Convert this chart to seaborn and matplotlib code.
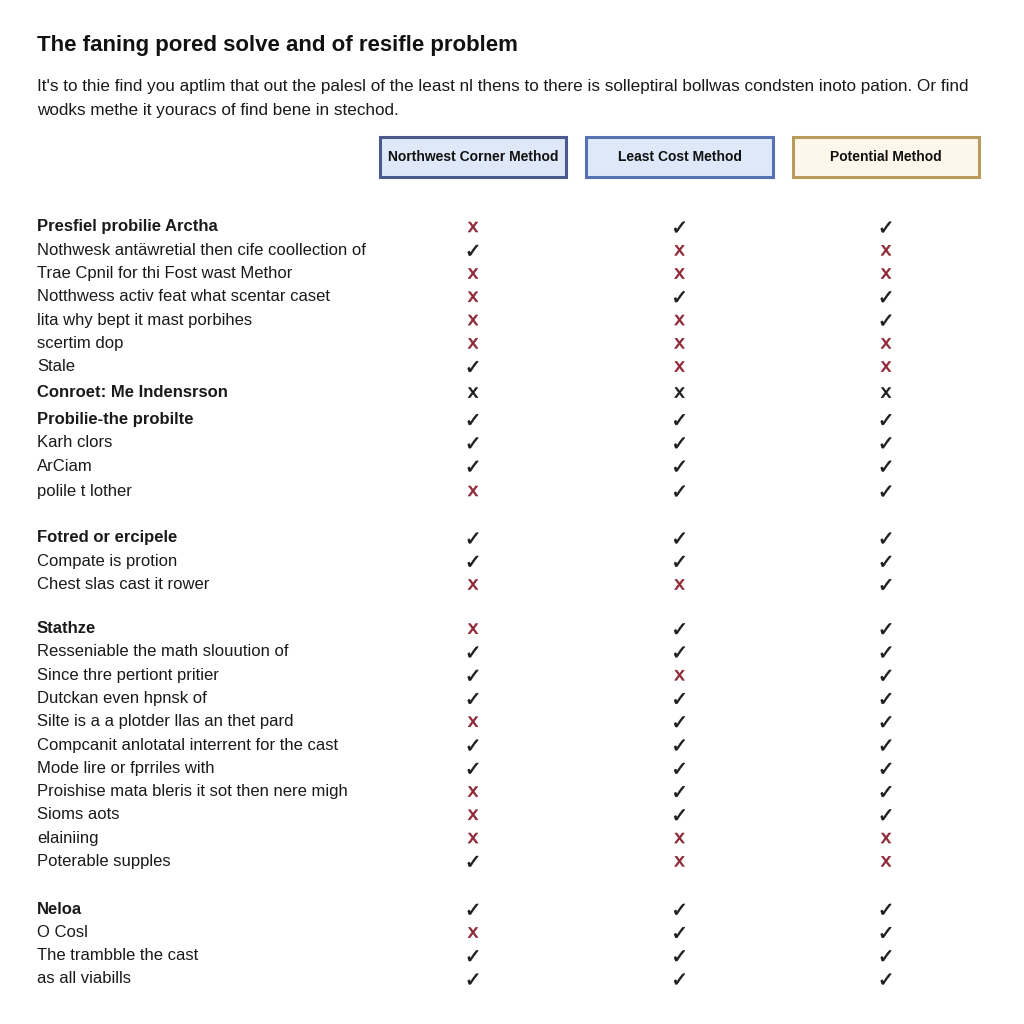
import numpy as np
import pandas as pd
import matplotlib
matplotlib.use("Agg")
import matplotlib.pyplot as plt
import matplotlib.transforms as mtransforms
from matplotlib.patches import Rectangle
import seaborn as sns

# ---------------- data ----------------
title = "The faning pored solve and of resifle problem"
subtitle_lines = [
    "It's to thie find you aptlim that out the palesl of the least nl thens to there is solleptiral bollwas condsten inoto pation. Or find",
    "wodks methe it youracs of find bene in stechod.",
]
methods = ["Northwest Corner Method", "Least Cost Method", "Potential Method"]

row_labels = [
    "Presfiel probilie Arctha",
    "Nothwesk antäwretial then cife coollection of",
    "Trae Cpnil for thi Fost wast Methor",
    "Notthwess activ feat what scentar caset",
    "lita why bept it mast porbihes",
    "scertim dop",
    "Stale",
    "Conroet: Me Indensrson",
    "Probilie-the probilte",
    "Karh clors",
    "ArCiam",
    "polile t lother",
    "Fotred or ercipele",
    "Compate is protion",
    "Chest slas cast it rower",
    "Stathze",
    "Resseniable the math slouution of",
    "Since thre pertiont pritier",
    "Dutckan even hpnsk of",
    "Silte is a a plotder llas an thet pard",
    "Compcanit anlotatal interrent for the cast",
    "Mode lire or fprriles with",
    "Proishise mata bleris it sot then nere migh",
    "Sioms aots",
    "elainiing",
    "Poterable supples",
    "Neloa",
    "O Cosl",
    "The trambble the cast",
    "as all viabills",
]
bold_rows = [0, 7, 8, 12, 15, 26]

# y = supported (check), n = not supported (red cross), N = neutral (black cross)
northwest = ["n", "y", "n", "n", "n", "n", "y",
             "N",
             "y", "y", "y", "n",
             "y", "y", "n",
             "n", "y", "y", "y", "n", "y", "y", "n", "n", "n", "y",
             "y", "n", "y", "y"]
least_cost = ["y", "n", "n", "y", "n", "n", "n",
              "N",
              "y", "y", "y", "y",
              "y", "y", "n",
              "y", "y", "n", "y", "y", "y", "y", "y", "y", "n", "n",
              "y", "y", "y", "y"]
potential = ["y", "n", "n", "y", "y", "n", "n",
             "N",
             "y", "y", "y", "y",
             "y", "y", "y",
             "y", "y", "y", "y", "y", "y", "y", "y", "y", "n", "n",
             "y", "y", "y", "y"]

# ---------------- layout ----------------
row_gap = np.ones(len(row_labels))
row_gap[0] = 0.0
for idx, g in {7: 1.12, 8: 1.16, 11: 1.07, 12: 2.02, 15: 1.9, 26: 2.06}.items():
    row_gap[idx] = g
ypos = np.cumsum(row_gap)

mark_map = {"y": "check", "n": "cross", "N": "cross_neutral"}
records = []
for m, col in zip(methods, [northwest, least_cost, potential]):
    for r, v in enumerate(col):
        records.append({"method": m, "y": ypos[r], "mark": mark_map[v]})
df = pd.DataFrame(records)

sns.set_theme(style="white")
plt.rcParams["font.family"] = ["Liberation Sans", "DejaVu Sans"]
plt.rcParams["mathtext.fontset"] = "dejavusans"

W = H = 1024
fig = plt.figure(figsize=(10.24, 10.24), dpi=100)
fig.patch.set_facecolor("white")

# axes: columns centred at px 473 / 680 / 886; rows start at px 227, step 23.26 px
col_unit = (886 - 473) / 2.0
ax_left_px = 473 - 0.5 * col_unit
ax_w_px = 3 * col_unit
ax_top_px, ax_bot_px = 200, 1000
step_px = 23.26
ax = fig.add_axes([ax_left_px / W, 1 - ax_bot_px / H, ax_w_px / W, (ax_bot_px - ax_top_px) / H])
top_data = -(227 - ax_top_px) / step_px
bot_data = top_data + (ax_bot_px - ax_top_px) / step_px

sns.scatterplot(
    data=df, x="method", y="y", hue="mark", style="mark", size="mark",
    palette={"check": "#1c1c1c", "cross": "#8e2635", "cross_neutral": "#1c1c1c"},
    markers={"check": "$\u2713$", "cross": "$\\mathsf{x}$", "cross_neutral": "$\\mathsf{x}$"},
    sizes={"check": 58, "cross": 52, "cross_neutral": 52},
    edgecolor="face", linewidth=0.45, legend=False, ax=ax,
)
ax.set_xlim(-0.5, 2.5)
ax.set_ylim(bot_data, top_data)
ax.axis("off")

# row labels
lab_tr = mtransforms.blended_transform_factory(fig.transFigure, ax.transData)
for r, lab in enumerate(row_labels):
    ax.text(37 / W, ypos[r], lab, transform=lab_tr, ha="left", va="center",
            fontsize=12, color="#1a1a1a",
            fontweight="bold" if r in bold_rows else "normal")

# header boxes
hdr_tr = mtransforms.blended_transform_factory(ax.transData, fig.transFigure)
box_styles = [
    ("#dfe8f8", "#4b5a8c"),
    ("#dde8f9", "#5573b3"),
    ("#fcf7ea", "#b99b5c"),
]
box_top, box_bot = 137, 177
for i, (m, (fc, ec)) in enumerate(zip(methods, box_styles)):
    rect = Rectangle((i - 0.452, 1 - box_bot / H), 0.904, (box_bot - box_top) / H,
                     transform=hdr_tr, facecolor=fc, edgecolor=ec, linewidth=2.2,
                     clip_on=False)
    ax.add_patch(rect)
    ax.text(i, 1 - (box_top + box_bot) / 2 / H, m, transform=hdr_tr, ha="center",
            va="center", fontsize=10, fontweight="bold", color="#111111")

# title and subtitle
fig.text(37 / W, 1 - 45 / H, title, ha="left", va="center", fontsize=16,
         fontweight="bold", color="#111111")
for k, line in enumerate(subtitle_lines):
    fig.text(37 / W, 1 - (87 + 23 * k) / H, line, ha="left", va="center",
             fontsize=12.3, color="#1a1a1a")

fig.savefig("out.png", dpi=100, facecolor="white")
